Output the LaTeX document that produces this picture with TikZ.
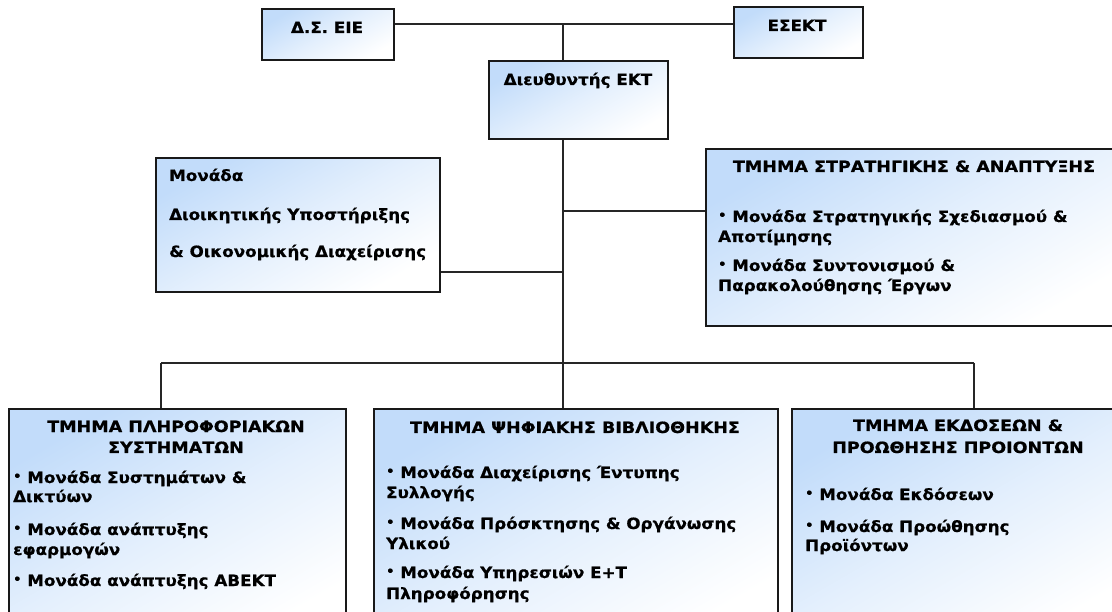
\documentclass[tikz,border=0pt]{standalone}
\usepackage{fontspec}
\setmainfont{DejaVu Sans}
\newfontfamily\bodyfont{DejaVu Sans}[FakeStretch=1.08, FakeBold=0.7]
\newfontfamily\titlefont{DejaVu Sans}[FakeStretch=1.13, FakeBold=0.7]
\definecolor{boxblue}{RGB}{194,220,250}
\colorlet{boxmid}{boxblue!45!white}
\newcommand{\fs}{\bodyfont\fontsize{15.5}{20}\selectfont\bfseries}
\newcommand{\ft}{\titlefont\fontsize{15.5}{20}\selectfont\bfseries}
\newcommand{\bul}{{\fontsize{12}{12}\selectfont\raisebox{2.8pt}{•}}\ }
\tikzset{
  orgbox/.style={draw=black!90, line width=1.7pt, top color=boxblue, bottom color=white, middle color=boxmid, shading angle=30, inner sep=0pt, anchor=north west},
  link/.style={draw=black!85, line width=1.3pt},
  tl/.style={font=\fs, inner sep=0pt, anchor=base west},
  tc/.style={font=\fs, inner sep=0pt, anchor=base},
  tt/.style={font=\ft, inner sep=0pt, anchor=base},
}
\begin{document}
\begin{tikzpicture}[x=1pt,y=1pt]
\path[use as bounding box] (0,-612) rectangle (1112,0);
\clip (0,-612) rectangle (1112,0);
% boxes
\node[orgbox, minimum width=132pt, minimum height=51pt] (ds) at (261,-8) {};
\node[orgbox, minimum width=129pt, minimum height=51pt] (esekt) at (733,-6) {};
\node[orgbox, minimum width=179pt, minimum height=78pt] (dir) at (488,-60) {};
\node[orgbox, minimum width=284pt, minimum height=134pt] (admin) at (155,-157) {};
\node[orgbox, minimum width=418pt, minimum height=177pt] (strat) at (705,-148) {};
\node[orgbox, minimum width=337pt, minimum height=230pt] (lbox) at (8,-408) {};
\node[orgbox, minimum width=404pt, minimum height=230pt] (mbox) at (373,-408) {};
\node[orgbox, minimum width=334pt, minimum height=230pt] (pbox) at (791,-408) {};
% junctions
\coordinate (jt) at (563,-24);
\coordinate (jb) at (563,-363);
\coordinate (jl) at (161,-363);
\coordinate (jr) at (974,-363);
\coordinate (ja) at (563,-272);
\coordinate (js) at (563,-211);
% connectors
\draw[link] (ds.east |- jt) -- (esekt.west |- jt);
\draw[link] (jt) -- (jt |- dir.north);
\draw[link] (jt |- dir.south) -- (jb);
\draw[link] (jl) -- (jr);
\draw[link] (jl) -- (jl |- lbox.north);
\draw[link] (jb) -- (jb |- mbox.north);
\draw[link] (jr) -- (jr |- pbox.north);
\draw[link] (admin.east |- ja) -- (ja);
\draw[link] (js) -- (strat.west |- js);
% texts
\node[tc] (t1) at (327,-33) {Δ.Σ. ΕΙΕ};
\node[tc] (t2) at (797,-31) {ΕΣΕΚΤ};
\node[tc] (t3) at (578,-85) {Διευθυντής ΕΚΤ};
\node[tl] (a1) at (169,-181) {Μονάδα};
\node[tl] (a2) at (169,-220) {Διοικητικής Υποστήριξης};
\node[tl] (a3) at (169,-257) {\& Οικονομικής Διαχείρισης};
\node[tt] (s0) at (914,-172) {ΤΜΗΜΑ ΣΤΡΑΤΗΓΙΚΗΣ \& ΑΝΑΠΤΥΞΗΣ};
\node[tl] (s1) at (718,-222) {\bul Μονάδα Στρατηγικής Σχεδιασμού \&};
\node[tl] (s2) at (718,-242) {Αποτίμησης};
\node[tl] (s3) at (718,-271) {\bul Μονάδα Συντονισμού \&};
\node[tl] (s4) at (718,-291) {Παρακολούθησης Έργων};
\node[tt] (l0) at (176,-432) {ΤΜΗΜΑ ΠΛΗΡΟΦΟΡΙΑΚΩΝ};
\node[tt] (l1) at (176,-453) {ΣΥΣΤΗΜΑΤΩΝ};
\node[tl] (l2) at (13,-483) {\bul Μονάδα Συστημάτων \&};
\node[tl] (l3) at (13,-502) {Δικτύων};
\node[tl] (l4) at (13,-535) {\bul Μονάδα ανάπτυξης};
\node[tl] (l5) at (13,-555) {εφαρμογών};
\node[tl] (l6) at (13,-586) {\bul Μονάδα ανάπτυξης ΑΒΕΚΤ};
\node[tt] (m0) at (575,-433) {ΤΜΗΜΑ ΨΗΦΙΑΚΗΣ ΒΙΒΛΙΟΘΗΚΗΣ};
\node[tl] (m1) at (386,-478) {\bul Μονάδα Διαχείρισης Έντυπης};
\node[tl] (m2) at (386,-498) {Συλλογής};
\node[tl] (m3) at (386,-529) {\bul Μονάδα Πρόσκτησης \& Οργάνωσης};
\node[tl] (m4) at (386,-549) {Υλικού};
\node[tl] (m5) at (386,-578) {\bul Μονάδα Υπηρεσιών Ε+Τ};
\node[tl] (m6) at (386,-599) {Πληροφόρησης};
\node[tt] (p0) at (958,-431) {ΤΜΗΜΑ ΕΚΔΟΣΕΩΝ \&};
\node[tt] (p1) at (958,-453) {ΠΡΟΩΘΗΣΗΣ ΠΡΟΙΟΝΤΩΝ};
\node[tl] (p2) at (805,-500) {\bul Μονάδα Εκδόσεων};
\node[tl] (p3) at (805,-532) {\bul Μονάδα Προώθησης};
\node[tl] (p4) at (805,-551) {Προϊόντων};
\end{tikzpicture}
\end{document}
